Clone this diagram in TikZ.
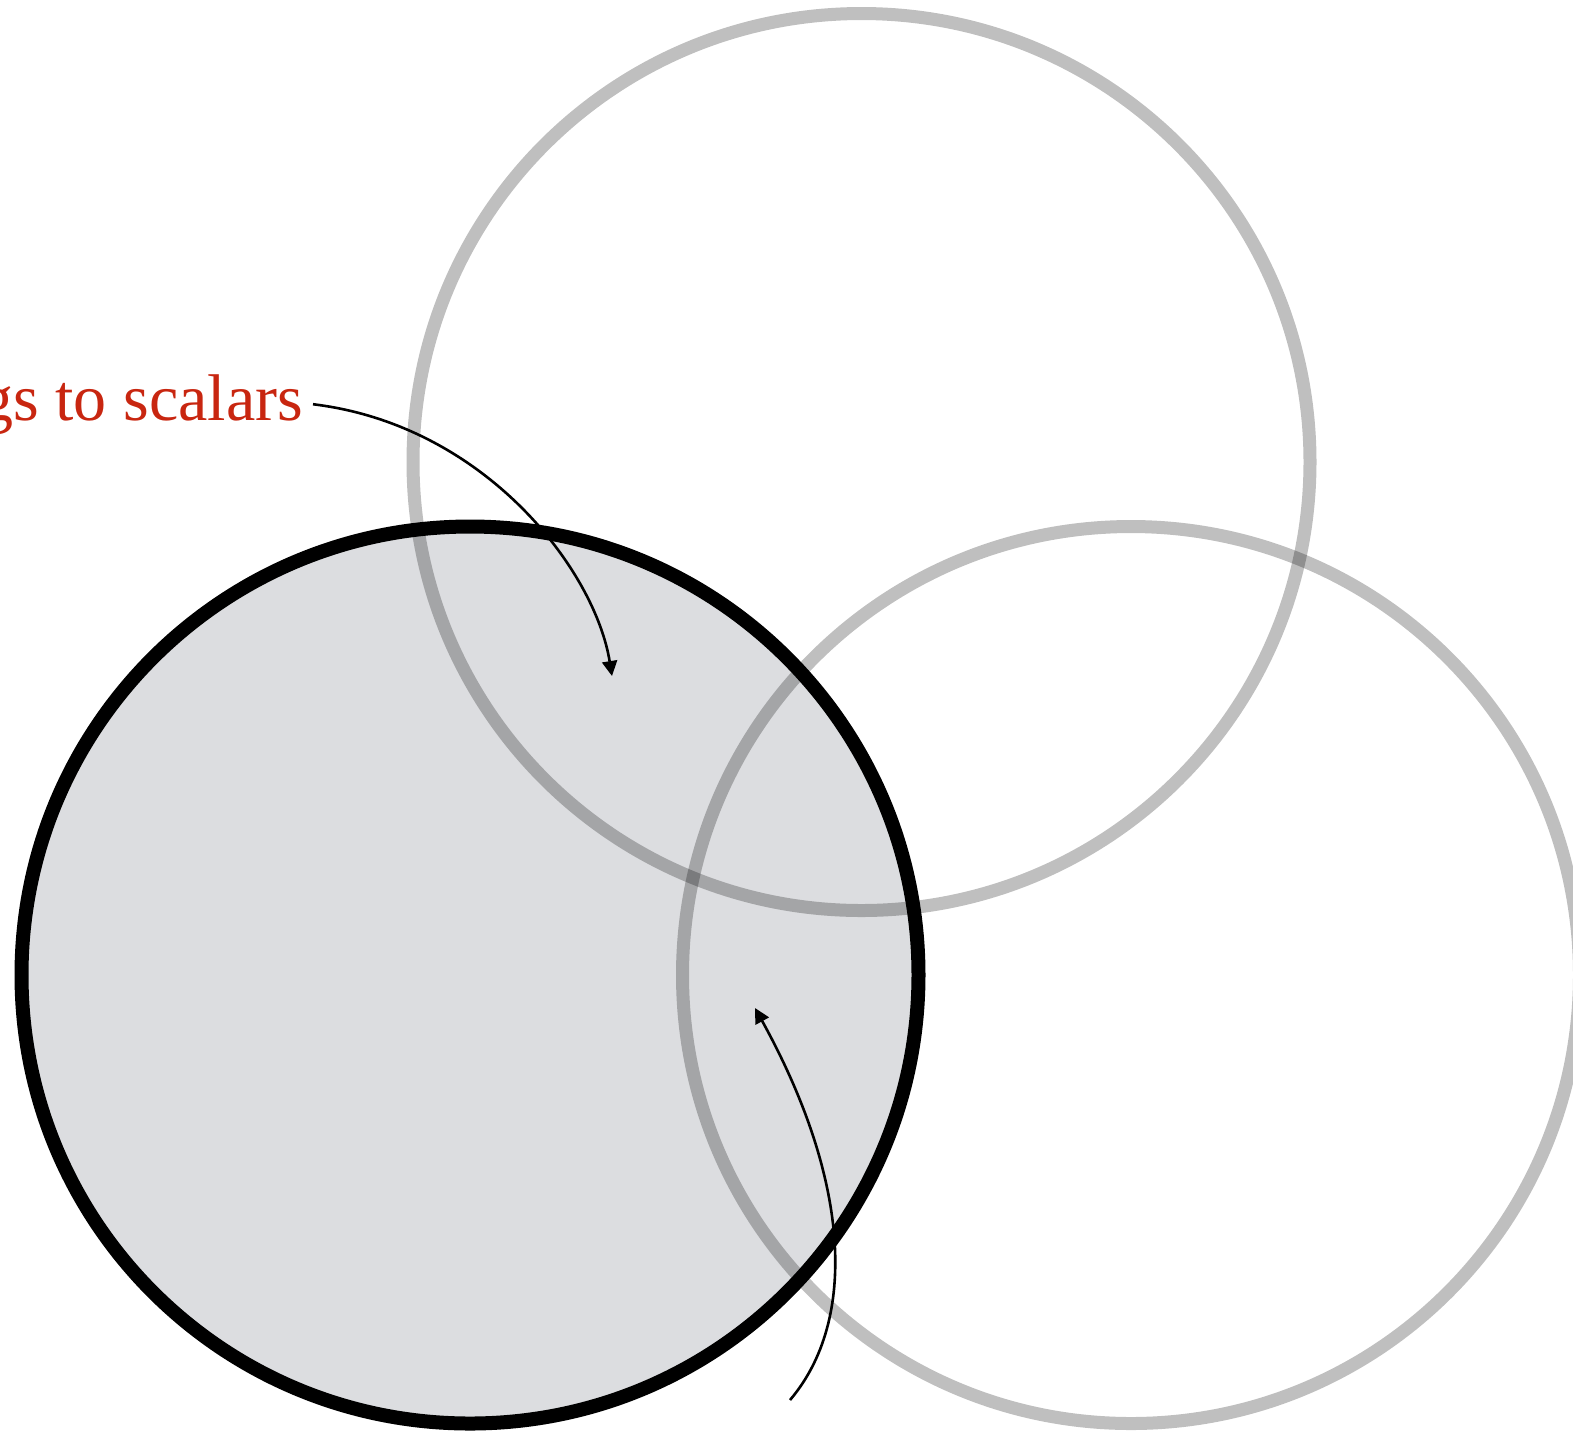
\documentclass[tikz,border=0pt]{standalone}
\usepackage{fontspec}
\setmainfont{Liberation Serif}
\usetikzlibrary{arrows.meta}
\definecolor{vennfill}{RGB}{220,221,224}
\definecolor{vennred}{RGB}{200,38,16}
\tikzset{
 venn set/.style={circle,minimum size=448.5pt,inner sep=0pt,outer sep=0pt},
 venn active/.style={venn set,draw=black,line width=7pt},
 venn faded/.style={venn set,draw=black,draw opacity=.25,line width=6.5pt},
 venn pointer/.style={line width=1.3pt,-{Triangle[length=7.5pt,width=7.5pt]}},
 venn label/.style={font=\fontsize{33}{40}\selectfont,text=vennred,
                    inner sep=0pt,outer xsep=5pt}
}
\begin{document}
\begin{tikzpicture}[x=0.5pt,y=-0.5pt]
 \path[use as bounding box,clip] (0,0) rectangle (1573,1432);
 \coordinate (cA) at (470,975);
 \coordinate (cB) at (861.5,462);
 \coordinate (cC) at (1131,975);
 \coordinate (tip1) at (612,676);
 \coordinate (from2) at (790,1400);
 \coordinate (tip2) at (755,1008);

 \node[venn set,fill=vennfill] (A) at (cA) {};
 \node[venn faded] (B) at (cB) {};
 \node[venn faded] (C) at (cC) {};
 \node[venn active] at (A) {};

 \node[venn label,anchor=base east] (scalars) at (313,420) {gs to scalars};
 \draw[venn pointer] (scalars.east) .. controls (485,425) and (595,570) .. (tip1);
 \draw[venn pointer] (from2) .. controls (858,1320) and (850,1180) .. (tip2);
\end{tikzpicture}
\end{document}
